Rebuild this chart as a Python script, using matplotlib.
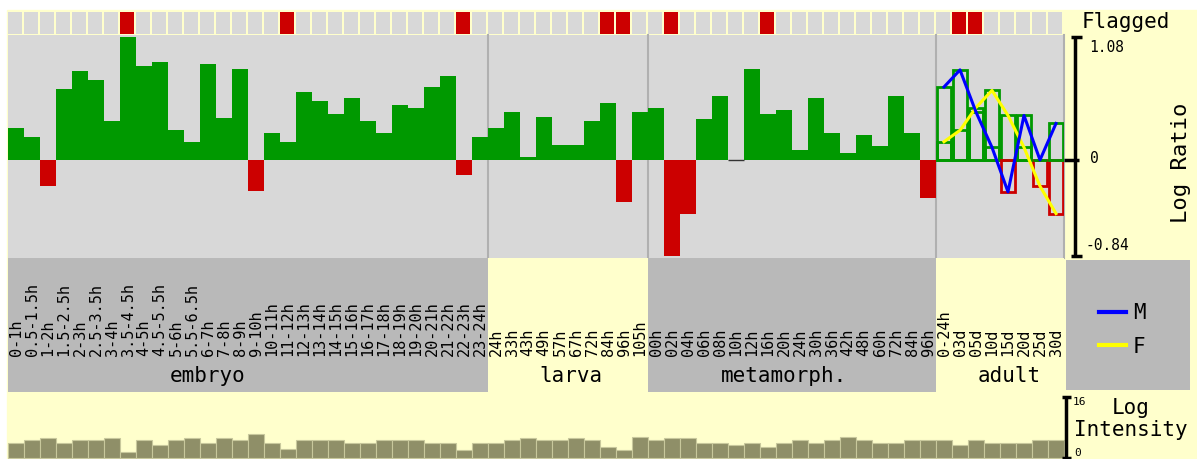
import matplotlib
matplotlib.use("Agg")
import matplotlib.pyplot as plt
import matplotlib.transforms as mtransforms
from matplotlib.patches import Rectangle
import numpy as np

# ---------------- data ----------------
stages = ["embryo", "larva", "metamorph.", "adult"]
embryo_times = ["0-1h", "0.5-1.5h", "1-2h", "1.5-2.5h", "2-3h", "2.5-3.5h",
                "3-4h", "3.5-4.5h", "4-5h", "4.5-5.5h", "5-6h", "5.5-6.5h",
                "6-7h", "7-8h", "8-9h", "9-10h", "10-11h", "11-12h", "12-13h",
                "13-14h", "14-15h", "15-16h", "16-17h", "17-18h", "18-19h",
                "19-20h", "20-21h", "21-22h", "22-23h", "23-24h"]
larva_times = ["24h", "33h", "43h", "49h", "57h", "67h", "72h", "84h", "96h", "105h"]
metamorph_times = ["00h", "02h", "04h", "06h", "08h", "10h", "12h", "16h", "20h",
                   "24h", "30h", "36h", "42h", "48h", "60h", "72h", "84h", "96h"]
adult_times = ["0-24h", "03d", "05d", "10d", "15d", "20d", "25d", "30d"]

# log ratio for embryo, larva and metamorphosis samples
log_ratio = [0.28, 0.20, -0.23, 0.62, 0.78, 0.70, 0.34, 1.08, 0.82, 0.86,
             0.26, 0.16, 0.84, 0.37, 0.80, -0.27, 0.24, 0.16, 0.60, 0.52,
             0.40, 0.54, 0.34, 0.24, 0.48, 0.46, 0.64, 0.74, -0.13, 0.20,
             0.28, 0.42, 0.03, 0.38, 0.13, 0.13, 0.34, 0.50, -0.37, 0.42,
             0.46, -0.84, -0.47, 0.36, 0.56, 0.00, 0.80, 0.40, 0.44, 0.09,
             0.54, 0.24, 0.06, 0.22, 0.12, 0.56, 0.24, -0.33]
# adult log ratio by sex
adult_male = [0.64, 0.79, 0.42, 0.11, -0.28, 0.39, 0.00, 0.32]
adult_female = [0.16, 0.26, 0.46, 0.61, 0.39, 0.11, -0.23, -0.47]

log_intensity = [4.0, 4.6, 5.2, 4.0, 4.6, 4.6, 5.2, 1.7, 4.6, 3.4,
                 4.6, 5.2, 4.0, 5.2, 4.6, 6.4, 4.0, 2.3, 4.6, 4.6,
                 4.6, 4.0, 4.0, 4.6, 4.6, 4.6, 4.0, 4.0, 2.2, 4.0,
                 4.0, 4.6, 5.2, 4.6, 4.6, 5.2, 4.6, 2.8, 2.2, 5.6,
                 4.6, 5.2, 5.2, 4.0, 4.0, 3.4, 4.0, 2.8, 4.0, 4.6,
                 4.0, 4.6, 5.6, 4.6, 4.0, 4.0, 4.6, 4.6, 4.6, 3.4,
                 4.6, 4.0, 4.0, 4.0, 4.6, 4.6]

flagged = [7, 17, 28, 37, 38, 41, 47, 59, 60]

ratio_max, ratio_min = 1.08, -0.84
intensity_max = 16

# ---------------- styling ----------------
YELLOW = "#ffffcc"
PANEL = "#d8d8d8"
LABELGRAY = "#b9b9b9"
DIVIDER = "#b0b0b0"
GREEN = "#009900"
RED = "#cc0000"
OLIVE = "#8f8f68"
BLUE = "#0000ff"
FEMALE = "#ffff00"

plt.rcParams["font.family"] = ["DejaVu Sans Mono", "DejaVu Sans"]

W, H = 1197, 459
fig = plt.figure(figsize=(W / 100, H / 100), dpi=100)
fig.patch.set_facecolor("white")
fig.add_artist(Rectangle((7 / W, 0), 1 - 7 / W, 1 - 10 / H,
                         transform=fig.transFigure, color=YELLOW, zorder=0))


def px_axes(x0, y0, x1, y1):
    ax = fig.add_axes([x0 / W, 1 - y1 / H, (x1 - x0) / W, (y1 - y0) / H])
    ax.set_xticks([])
    ax.set_yticks([])
    for s in ax.spines.values():
        s.set_visible(False)
    return ax


groups = [embryo_times, larva_times, metamorph_times, adult_times]
sizes = [len(g) for g in groups]
labels = [t for g in groups for t in g]
n = len(labels)
bounds = np.cumsum([0] + sizes)
n_main = len(log_ratio)
x = np.arange(n)

# ---------------- flagged strip ----------------
fa = px_axes(8, 12, 1064, 34)
fa.patch.set_alpha(0)
fa.set_xlim(0, n)
fa.set_ylim(0, 1)
fa.bar(x + 0.02, 1, width=0.88, align="edge",
       color=[RED if i in flagged else PANEL for i in x], linewidth=0)

# ---------------- log ratio panel ----------------
ra = px_axes(8, 35, 1064, 258)
ra.set_facecolor(PANEL)
ra.set_xlim(0, n)
ra.set_ylim(-0.86, 1.096)
xm = np.arange(n_main)
vals = np.array(log_ratio)
ra.bar(xm, vals, width=1, align="edge",
       color=[GREEN if v > 0 else RED for v in vals], linewidth=0, zorder=2)
zero = xm[vals == 0]
ra.hlines(np.zeros(len(zero)), zero, zero + 1, color="#333333", lw=1, zorder=2)

xa = np.arange(n_main, n)
for series in (adult_female, adult_male):
    s = np.array(series)
    ra.bar(xa + 0.06, s, width=0.88, align="edge", fill=False,
           edgecolor=[GREEN if v >= 0 else RED for v in s], linewidth=2.0, zorder=3)
ra.plot(xa + 0.5, adult_female, color=FEMALE, lw=2.2, zorder=4)
ra.plot(xa + 0.5, adult_male, color=BLUE, lw=2.2, zorder=5)
for b in bounds[1:]:
    ra.axvline(b, color=DIVIDER, lw=1.5, zorder=1, clip_on=False)

# ---------------- sample labels ----------------
la = px_axes(8, 258, 1064, 392)
la.patch.set_alpha(0)
la.set_xlim(0, n)
la.set_ylim(0, 1)
stage_colors = [LABELGRAY, YELLOW, LABELGRAY, YELLOW]
for i in range(len(stages)):
    la.axvspan(bounds[i], bounds[i + 1], color=stage_colors[i], lw=0)
for i, t in enumerate(labels):
    la.text(i + 0.5, 0.265, t, rotation=90, ha="center", va="bottom",
            fontsize=11, color="black")
stage_label_x = [12.5, 35.2, 48.5, 62.6]
for sx, name in zip(stage_label_x, stages):
    la.text(sx, 0.12, name, ha="center", va="center", fontsize=15)

# ---------------- legend ----------------
lg = px_axes(1066, 260, 1190, 390)
lg.set_facecolor(LABELGRAY)
lg.set_xlim(0, 1)
lg.set_ylim(0, 1)
lg.plot([0.27, 0.48], [0.60, 0.60], color=BLUE, lw=3)
lg.plot([0.27, 0.48], [0.35, 0.35], color=FEMALE, lw=3)
lg.text(0.54, 0.59, "M", va="center", ha="left", fontsize=15)
lg.text(0.54, 0.33, "F", va="center", ha="left", fontsize=15)

# ---------------- log intensity panel ----------------
ia = px_axes(8, 392, 1064, 458)
ia.patch.set_alpha(0)
ia.set_xlim(0, n)
ia.set_ylim(0, intensity_max * 66 / 61)
ia.bar(x + 0.03, log_intensity, width=0.94, align="edge", color=OLIVE,
       edgecolor="#c8c89c", linewidth=0.8, clip_on=False)

# ---------------- overlay for scales and titles ----------------
ov = fig.add_axes([0, 0, 1, 1])
ov.set_xlim(0, W)
ov.set_ylim(H, 0)
ov.axis("off")

bt = mtransforms.blended_transform_factory(ov.transData, ra.transData)
ra.plot([1075, 1075], [ratio_min, ratio_max], color="black", lw=2.5,
        transform=bt, clip_on=False, solid_capstyle="butt")
for yv, x0, x1 in [(ratio_max, 1071, 1082), (ratio_min, 1071, 1082), (0, 1064, 1079)]:
    ra.plot([x0, x1], [yv, yv], color="black", lw=2.5, transform=bt,
            clip_on=False, solid_capstyle="butt")
ra.annotate(f"{ratio_max:.2f}", xy=(1089, ratio_max), xycoords=bt,
            xytext=(0, -2), textcoords="offset points", va="top", ha="left",
            fontsize=10.5, annotation_clip=False)
ra.annotate("0", xy=(1090, 0), xycoords=bt, xytext=(0, 1),
            textcoords="offset points", va="center", ha="left",
            fontsize=10.5, annotation_clip=False)
ra.annotate(f"{ratio_min:.2f}", xy=(1086, ratio_min), xycoords=bt,
            xytext=(0, 2), textcoords="offset points", va="bottom", ha="left",
            fontsize=10.5, annotation_clip=False)
ov.text(1181, 163, "Log Ratio", rotation=90, ha="center", va="center", fontsize=16)
ov.text(1082, 28, "Flagged", ha="left", va="baseline", fontsize=15)

bt2 = mtransforms.blended_transform_factory(ov.transData, ia.transData)
ia.plot([1066, 1066], [0, intensity_max], color="black", lw=2.5,
        transform=bt2, clip_on=False, solid_capstyle="butt")
for yv in (0, intensity_max):
    ia.plot([1062, 1071], [yv, yv], color="black", lw=2.5, transform=bt2,
            clip_on=False, solid_capstyle="butt")
ia.annotate(str(intensity_max), xy=(1073, intensity_max), xycoords=bt2,
            va="top", ha="left", fontsize=8, annotation_clip=False)
ia.annotate("0", xy=(1074, 0), xycoords=bt2, va="bottom", ha="left",
            fontsize=8, annotation_clip=False)
ov.text(1131, 408, "Log", ha="center", va="center", fontsize=15)
ov.text(1131, 430, "Intensity", ha="center", va="center", fontsize=15)

fig.savefig("out.png", dpi=100, facecolor=fig.get_facecolor())
